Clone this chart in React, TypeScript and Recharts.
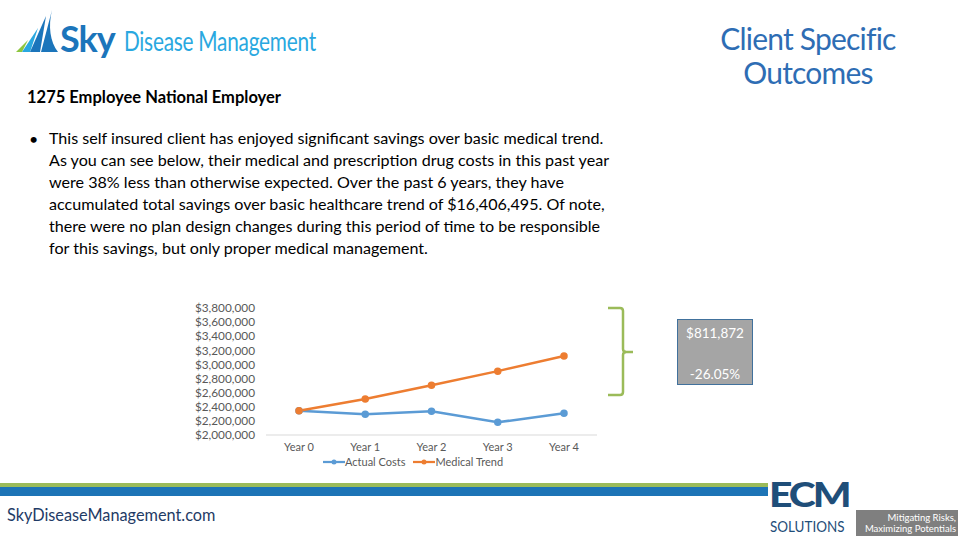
import React from 'react'
import { LineChart, Line, XAxis, YAxis, Legend } from 'recharts'

const years = ['Year 0', 'Year 1', 'Year 2', 'Year 3', 'Year 4']
const actualCosts = [2345000, 2295000, 2335000, 2180000, 2308128]
const medicalTrend = [2345000, 2510000, 2705000, 2905000, 3120000]
const yTicks = [2000000, 2200000, 2400000, 2600000, 2800000, 3000000, 3200000, 3400000, 3600000, 3800000]

const bulletLines = [
    'This self insured client has enjoyed significant savings over basic medical trend.',
    'As you can see below, their medical and prescription drug costs in this past year',
    'were 38% less than otherwise expected. Over the past 6 years, they have',
    'accumulated total savings over basic healthcare trend of $16,406,495. Of note,',
    'there were no plan design changes during this period of time to be responsible',
    'for this savings, but only proper medical management.',
]

const savings = '$811,872'
const savingsPct = '-26.05%'

const BLUE = '#5B9BD5'
const ORANGE = '#ED7D31'
const FONT = 'Lato, "Open Sans", sans-serif'

const data = years.map((y, i) => ({ year: y, actual: actualCosts[i], trend: medicalTrend[i] }))

const fmtMoney = (v: number) => '$' + v.toLocaleString('en-US')

// legend drawn as line + dot icons like the Excel original
const LegendContent = () => (
    <div style={{ display: 'flex', marginLeft: 143, fontSize: 11, color: '#595959', fontFamily: FONT, lineHeight: '16px' }}>
        {[
            { name: 'Actual Costs', color: BLUE },
            { name: 'Medical Trend', color: ORANGE },
        ].map(item => (
            <div key={item.name} style={{ display: 'flex', alignItems: 'center', marginRight: 8 }}>
                <svg width={22} height={10}>
                    <line x1={0} y1={5} x2={22} y2={5} stroke={item.color} strokeWidth={2.25} />
                    <circle cx={11} cy={5} r={2.5} fill={item.color} />
                </svg>
                <span>{item.name}</span>
            </div>
        ))}
    </div>
)

const App: React.FC = () => {
    return (
        <div style={{ position: 'absolute', left: 0, top: 0, width: 960, height: 540, background: '#fff', overflow: 'hidden', fontFamily: FONT }}>
            {/* Sky logo */}
            <svg style={{ position: 'absolute', left: 14, top: 10 }} width={46} height={50}>
                <path d="M2 42 L14 30 L8 42 Z" fill="#8DC63F" />
                <path d="M8 42 L24 18 L16 42 Z" fill="#29A8E0" />
                <path d="M16 42 L32 6 L26 42 Z" fill="#1B75BB" />
                <path d="M27 42 L38 0 C34 16 36 32 44 42 Z" fill="#1B75BB" />
            </svg>
            <div style={{ position: 'absolute', left: 60, top: 16, fontSize: 36, fontWeight: 700, color: '#1B75BB', letterSpacing: -1 }}>Sky</div>
            <div style={{ position: 'absolute', left: 124, top: 25, fontSize: 26, color: '#29A8E0', whiteSpace: 'nowrap', transform: 'scaleX(0.8)', transformOrigin: 'left', letterSpacing: -0.3 }}>
                Disease Management
            </div>

            {/* title */}
            <div style={{ position: 'absolute', left: 696, top: 21, width: 224, textAlign: 'center', fontSize: 30, lineHeight: '34px', color: '#2E6DB4', letterSpacing: -0.8 }}>
                Client Specific<br />Outcomes
            </div>

            <div style={{ position: 'absolute', left: 27, top: 87, fontSize: 16.5, fontWeight: 700, color: '#000', whiteSpace: 'nowrap' }}>
                1275 Employee National Employer
            </div>

            <div style={{ position: 'absolute', left: 29, top: 129, fontSize: 16, color: '#000' }}>•</div>
            {bulletLines.map((line, i) => (
                <div key={i} style={{ position: 'absolute', left: 49, top: 128 + i * 22, fontSize: 16.1, whiteSpace: 'nowrap', color: '#000' }}>
                    {line}
                </div>
            ))}

            {/* chart */}
            <div style={{ position: 'absolute', left: 180, top: 295 }}>
                <LineChart width={430} height={180} data={data} margin={{ top: 13, right: 13, bottom: 3, left: 0 }}>
                    <XAxis
                        dataKey="year"
                        height={19}
                        padding={{ left: 33, right: 33 }}
                        tickLine={false}
                        axisLine={{ stroke: '#D9D9D9' }}
                        tick={{ fill: '#595959', fontSize: 11, fontFamily: FONT }}
                    />
                    <YAxis
                        width={86}
                        domain={[2000000, 3800000]}
                        ticks={yTicks}
                        interval={0}
                        axisLine={false}
                        tickLine={false}
                        tickMargin={5}
                        tickFormatter={fmtMoney}
                        tick={{ fill: '#595959', fontSize: 11.8, fontFamily: FONT }}
                    />
                    <Legend verticalAlign="bottom" height={18} content={<LegendContent />} />
                    <Line dataKey="actual" name="Actual Costs" stroke={BLUE} strokeWidth={2.5} dot={{ r: 2.5, fill: BLUE, stroke: BLUE }} isAnimationActive={false} />
                    <Line dataKey="trend" name="Medical Trend" stroke={ORANGE} strokeWidth={2.5} dot={{ r: 2.5, fill: ORANGE, stroke: ORANGE }} isAnimationActive={false} />
                </LineChart>
            </div>

            {/* bracket */}
            <svg style={{ position: 'absolute', left: 600, top: 300 }} width={40} height={100}>
                <path d="M8 8 L20 8 Q23 8 23 11 L23 49 Q23 52 26 52 Q23 52 23 55 L23 92 Q23 95 20 95 L8 95" fill="none" stroke="#9BBB59" strokeWidth={2.5} />
                <line x1={25} y1={52} x2={33} y2={52} stroke="#9BBB59" strokeWidth={2.5} />
            </svg>

            {/* savings box */}
            <div style={{ position: 'absolute', left: 677, top: 319, width: 74, height: 64, background: '#A5A5A5', border: '1px solid #41719C', color: '#fff', fontSize: 13.5, textAlign: 'center' }}>
                <div style={{ position: 'absolute', top: 5, width: '100%' }}>{savings}</div>
                <div style={{ position: 'absolute', top: 46, width: '100%' }}>{savingsPct}</div>
            </div>

            {/* footer stripes */}
            <div style={{ position: 'absolute', left: 0, top: 483, width: 768, height: 4, background: '#9BBB59' }} />
            <div style={{ position: 'absolute', left: 0, top: 487, width: 768, height: 9, background: '#1D74B6' }} />
            <div style={{ position: 'absolute', left: 7, top: 505, fontSize: 16.3, color: '#1F3B66', whiteSpace: 'nowrap' }}>
                SkyDiseaseManagement.com
            </div>

            {/* ECM logo */}
            <div style={{ position: 'absolute', left: 769, top: 480, height: 28, fontSize: 34, fontWeight: 900, color: '#1F4E79', letterSpacing: -2.5, lineHeight: '28px', whiteSpace: 'nowrap', transform: 'scaleX(1.2)', transformOrigin: 'left' }}>
                ECM
            </div>
            <div style={{ position: 'absolute', left: 770, top: 517, height: 18, fontSize: 16, color: '#1F4E79', lineHeight: '18px', whiteSpace: 'nowrap', transform: 'scaleX(0.84)', transformOrigin: 'left' }}>
                SOLUTIONS
            </div>
            <div style={{ position: 'absolute', left: 856, top: 510, width: 102, height: 26, background: '#7F7F7F', color: '#fff', fontSize: 9.5, lineHeight: '11px', textAlign: 'right', paddingRight: 2, boxSizing: 'border-box', paddingTop: 2, whiteSpace: 'nowrap' }}>
                Mitigating Risks,<br />Maximizing Potentials
            </div>
        </div>
    )
}

export default App
